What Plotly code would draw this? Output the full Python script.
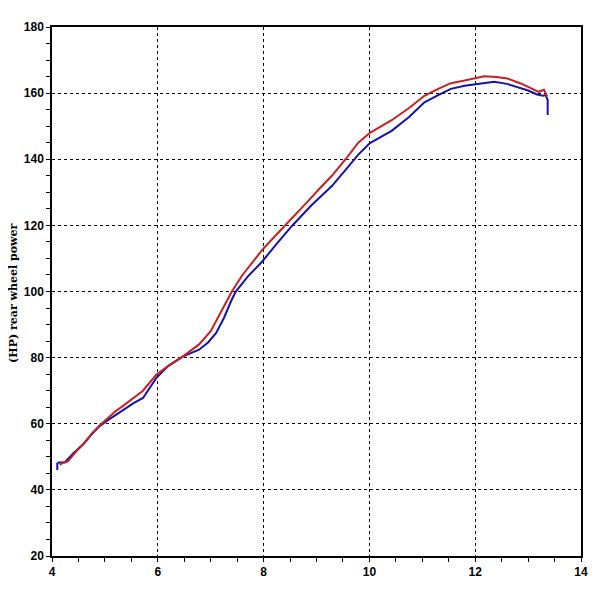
import plotly.graph_objects as go

# Red run (rpm x1000 vs HP)
red_x = [4.15, 4.2, 4.3, 4.45, 4.6, 4.75, 4.9, 5.05, 5.2, 5.35, 5.5, 5.72, 5.97, 6.2, 6.47,
         6.78, 7.0, 7.2, 7.4, 7.6, 7.8, 7.97, 8.2, 8.41, 8.65, 8.85, 9.05, 9.29, 9.55, 9.79,
         10.01, 10.2, 10.42, 10.75, 11.04, 11.3, 11.54, 11.8, 12.01, 12.17, 12.4, 12.61,
         12.85, 13.05, 13.2, 13.3, 13.36]
red_y = [47.5, 48.2, 48.6, 51.5, 54.0, 57.0, 59.5, 61.8, 63.8, 65.5, 67.3, 70.0, 74.8, 77.5, 80.3,
         84.0, 88.0, 94.0, 100.0, 105.0, 109.0, 112.5, 116.5, 120.0, 124.0, 127.5, 131.0, 135.0, 140.0, 145.0,
         148.0, 149.7, 151.8, 155.5, 159.2, 161.3, 163.0, 163.8, 164.5, 165.1, 164.9, 164.4,
         163.0, 161.4, 160.4, 161.0, 159.0]

# Blue run
blue_x = [4.1, 4.1, 4.13, 4.24, 4.4, 4.59, 4.75, 4.9, 5.05, 5.22, 5.4, 5.55, 5.72, 5.85, 5.97,
          6.2, 6.47, 6.78, 6.95, 7.1, 7.25, 7.38, 7.47, 7.7, 7.97, 8.25, 8.54, 8.9, 9.29, 9.55,
          9.79, 10.01, 10.42, 10.75, 11.04, 11.3, 11.54, 11.8, 12.01, 12.36, 12.6, 12.8, 13.0,
          13.17, 13.28, 13.33, 13.37, 13.37]
blue_y = [46.0, 48.0, 48.3, 48.3, 51.0, 53.8, 56.8, 59.3, 61.0, 62.8, 64.8, 66.3, 67.8, 70.8, 73.8,
          77.5, 80.3, 82.4, 84.6, 87.4, 92.0, 96.9, 99.9, 104.5, 109.0, 114.5, 119.9, 126.0, 131.9, 136.8,
          141.4, 144.9, 148.6, 152.8, 157.2, 159.4, 161.3, 162.2, 162.7, 163.4, 162.8, 161.9, 160.8,
          159.6, 159.2, 159.4, 158.0, 153.4]

x_ticks = [4, 6, 8, 10, 12, 14]
y_ticks = [20, 40, 60, 80, 100, 120, 140, 160, 180]
y_title = "(HP) rear wheel power"

fig = go.Figure()
fig.add_trace(go.Scatter(x=blue_x, y=blue_y, mode="lines",
                         line=dict(color="#1414a8", width=2), showlegend=False))
fig.add_trace(go.Scatter(x=red_x, y=red_y, mode="lines",
                         line=dict(color="#c82020", width=2), showlegend=False))

tickfont = dict(family="Liberation Sans, Arial, sans-serif", size=12, color="black", weight="bold")

fig.update_xaxes(range=[4, 14], tickvals=x_ticks, ticktext=[str(v) for v in x_ticks],
                 showline=True, linecolor="black", linewidth=1.5, mirror=True,
                 showgrid=True, gridcolor="black", gridwidth=1, griddash="3px,3px",
                 ticks="outside", ticklen=4, tickcolor="black", tickfont=tickfont,
                 minor=dict(dtick=0.5, tick0=4, ticks="outside", ticklen=4, tickcolor="black", showgrid=False),
                 zeroline=False)
fig.update_yaxes(range=[20, 180], tickvals=y_ticks, ticktext=[str(v) for v in y_ticks],
                 showline=True, linecolor="black", linewidth=1.5, mirror=True,
                 showgrid=True, gridcolor="black", gridwidth=1, griddash="3px,3px",
                 ticks="outside", ticklen=4, tickcolor="black", tickfont=tickfont,
                 minor=dict(dtick=5, tick0=20, ticks="outside", ticklen=4, tickcolor="black", showgrid=False),
                 zeroline=False)

fig.add_annotation(text=y_title, xref="paper", yref="paper", x=-0.074, y=0.497,
                   xanchor="center", yanchor="middle", textangle=-90, showarrow=False,
                   font=dict(family="DejaVu Serif, serif", size=11,
                             color="black", weight="bold"))

fig.update_layout(width=592, height=592, margin=dict(l=44, r=14, t=13, b=44),
                  paper_bgcolor="white", plot_bgcolor="white")

fig.write_html("out.html")
